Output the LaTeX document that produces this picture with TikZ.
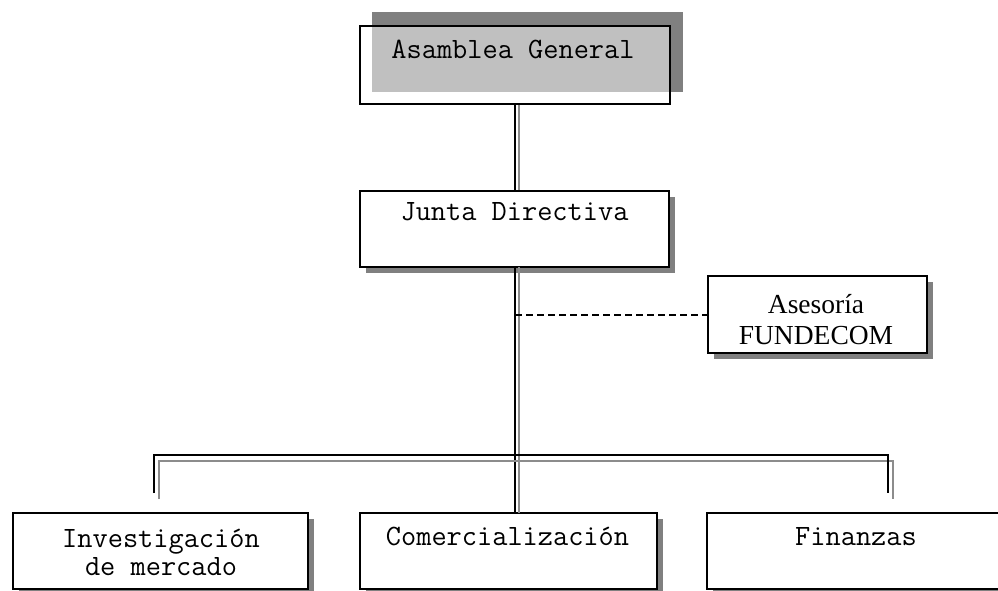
\documentclass[tikz,border=0pt]{standalone}
\usepackage{fontspec}
\setmainfont{Liberation Serif}
\usetikzlibrary{shadows}
\definecolor{darkg}{HTML}{808080}
\definecolor{lightg}{HTML}{C0C0C0}
\definecolor{lineg}{HTML}{8C8C8C}
\tikzset{
  box/.style={draw=black, line width=1.5pt, inner sep=0pt, minimum width=#1, minimum height=76pt},
  shbox/.style={box=#1, fill=white, general shadow={shadow xshift=6pt, shadow yshift=-6pt, fill=darkg}},
  mono/.style={font=\fontsize{29.5}{30}\selectfont\ttfamily, inner sep=0pt, anchor=base},
  serif/.style={font=\fontsize{27.5}{31}\selectfont\rmfamily, inner sep=0pt, anchor=base},
  blk/.style={draw=black, line width=1.5pt},
  gry/.style={draw=lineg, line width=1.5pt},
}
\begin{document}
\begin{tikzpicture}[x=1pt,y=-1pt]
\useasboundingbox (0,0) rectangle (998,590);
\clip (0,0) rectangle (998,590);
% Asamblea General
\fill[darkg] (372,12) rectangle (683,92);
\fill[white] (360,26) rectangle (670,104);
\fill[lightg] (372,26) rectangle (669,92);
\node[box=310pt, minimum height=78pt] (asam) at (515,65) {};
\node[mono] (asamT) at (513,58) {Asamblea General};
% Junta Directiva
\node[shbox=309pt] (junta) at (514.5,229) {};
\node[mono] (juntaT) at (514.5,220) {Junta Directiva};
% Asesoria
\node[shbox=219pt, minimum height=77pt] (ases) at (817.5,314.5) {};
\node[serif] (asesT) at (816,313) {Asesoría};
\node[serif] (asesT2) at (816,344) {FUNDECOM};
% bottom boxes
\node[shbox=295pt] (inv) at (160.5,551) {};
\node[mono] (invT) at (161,547) {Investigación};
\node[mono] (invT2) at (161,575) {de mercado};
\node[shbox=297pt] (com) at (508.5,551) {};
\node[mono] (comT) at (507.5,545) {Comercialización};
\node[shbox=298pt] (fin) at (856,551) {};
\node[mono] (finT) at (856,545) {Finanzas};
% connectors Asamblea -> Junta
\draw[gry] ([xshift=4pt]asam.south) -- ([xshift=4.5pt]junta.north);
\draw[blk] (asam.south) -- (asam.south |- junta.north);
% Junta -> Comercializacion
\coordinate (jb) at (515,267);
\coordinate (ct) at (515,513);
\draw[gry] ([xshift=4pt]jb) -- ([xshift=4pt]ct);
\draw[blk] (jb) -- (ct);
% dashed to Asesoria
\coordinate (dj) at (515,315);
\draw[black, line width=1.5pt, dash pattern=on 7pt off 4pt] (dj) -- (dj -| ases.west);
% bottom branch
\coordinate (bl) at (154,493);
\coordinate (br) at (888,493);
\coordinate (hl) at (515,455);
\coordinate (gl) at (159,499);
\coordinate (gr) at (893,499);
\coordinate (hg) at (519,461);
\draw[gry] (gl) -- (gl |- hg) -- (gr |- hg) -- (gr);
\draw[blk] (bl) -- (bl |- hl) -- (br |- hl) -- (br);
\end{tikzpicture}
\end{document}
